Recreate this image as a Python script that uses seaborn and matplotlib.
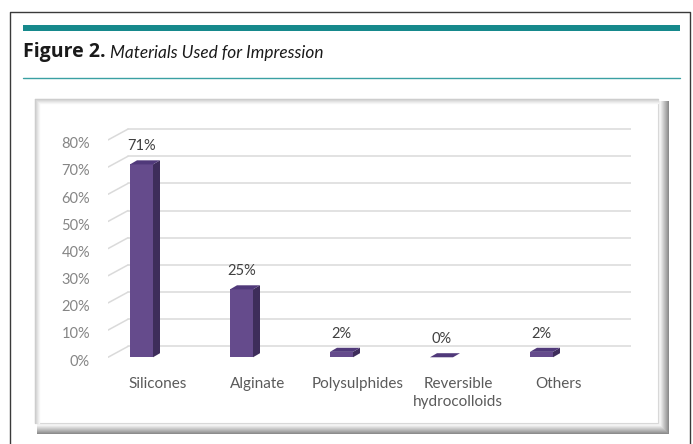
import matplotlib
matplotlib.use("Agg")
import matplotlib.pyplot as plt
import seaborn as sns
from matplotlib.patches import Rectangle, Polygon

categories = ["Silicones", "Alginate", "Polysulphides", "Reversible\nhydrocolloids", "Others"]
values = [71, 25, 2, 0, 2]
y_ticks = [0, 10, 20, 30, 40, 50, 60, 70, 80]
y_labels = [f"{t}%" for t in y_ticks]
title_bold = "Figure 2."
title_italic = "Materials Used for Impression"

sns.set_style("white")
plt.rcParams["font.family"] = ["Lato", "DejaVu Sans"]

W, H = 693, 444
fig = plt.figure(figsize=(W / 100, H / 100), dpi=100)
fig.patch.set_facecolor("white")

bg = fig.add_axes([0, 0, 1, 1])
bg.set_xlim(0, W)
bg.set_ylim(H, 0)
bg.axis("off")

# outer frame
bg.plot([10, 10, 690, 690], [446, 12, 12, 446], color="#3a3a3a", lw=1.0)
# teal bar and line
bg.add_patch(Rectangle((23, 25.5), 657, 6, color="#16898c", lw=0))
bg.plot([23, 680], [78, 78], color="#3aa0a3", lw=1.0)

# title
t1 = bg.text(23, 52, title_bold, fontsize=14, fontweight="bold", color="#1a1a1a",
             va="center", ha="left", family=["Open Sans", "DejaVu Sans"])
bg.annotate(" " + title_italic, xy=(1, 0), xycoords=t1, xytext=(0, 1),
            textcoords="offset points", fontsize=12.4, style="italic",
            color="#1a1a1a", va="bottom", ha="left")

# inner chart box with bevel shadow
bx0, by0, bx1, by1 = 35, 99, 667, 432
for i in range(9):
    g = 0.55 + 0.05 * i
    bg.add_patch(Rectangle((bx0 + 2, by0 + 2), (bx1 - bx0) - i, (by1 - by0) - i,
                           facecolor=(g, g, g), edgecolor="none"))
bg.add_patch(Rectangle((bx0, by0), (bx1 - bx0) - 9, (by1 - by0) - 9,
                       facecolor="white", edgecolor="#d8d8d8", lw=0.8))
for i in range(5):
    g = 0.80 + 0.04 * i
    bg.plot([bx0 + i, bx0 + i], [by0 + i, by1 - 9], color=(g, g, g), lw=1)
    bg.plot([bx0 + i, bx1 - 9], [by0 + i, by0 + i], color=(g, g, g), lw=1)

# chart axes (pixel 108..631 x, 128..360 y)
px0, px1, py0, py1 = 108, 631, 128, 360
ax = fig.add_axes([px0 / W, (H - py1) / H, (px1 - px0) / W, (py1 - py0) / H])
ax.set_facecolor("none")

front = "#654b8c"
side = "#3e2d5b"
top = "#50397a"

sns.barplot(x=categories, y=values, color=front, width=0.23, ax=ax,
            saturation=1, edgecolor="none", zorder=3)

xmin, xmax = -0.335, 4.895
ymax = 84.4
ddx, ddy = 0.2, 4.0
bdx, bdy = 0.07, 1.5

for v in y_ticks:
    ax.plot([xmin + ddx, xmax], [v + ddy, v + ddy], color="#dadada", lw=1.1, zorder=1)
    ax.plot([xmin, xmin + ddx], [v, v + ddy], color="#dadada", lw=1.1, zorder=1)

for p, v in zip(ax.patches, values):
    x0 = p.get_x()
    w = p.get_width()
    h = p.get_height()
    ax.add_patch(Polygon([(x0 + w, 0), (x0 + w + bdx, bdy), (x0 + w + bdx, h + bdy), (x0 + w, h)],
                         closed=True, facecolor=side, edgecolor="none", zorder=3))
    ax.add_patch(Polygon([(x0, h), (x0 + bdx, h + bdy), (x0 + w + bdx, h + bdy), (x0 + w, h)],
                         closed=True, facecolor=top, edgecolor="none", zorder=3))
    ax.text(x0 + w / 2, h + 6.6, f"{v}%", ha="center", va="center", fontsize=10.5,
            color="#404040")

ax.set_xlim(xmin, xmax)
ax.set_ylim(0, ymax)
ax.set_yticks([t - 1.0 for t in y_ticks])
ax.set_yticklabels(y_labels, fontsize=10.5, color="#858585")
ax.set_xticks([i + 0.165 for i in range(len(categories))])
ax.set_xticklabels(categories, fontsize=11, color="#5a5a5a", linespacing=1.4)
ax.tick_params(axis="y", length=0, pad=13)
ax.tick_params(axis="x", length=0, pad=12)
for lbl in ax.get_xticklabels():
    lbl.set_va("top")
for s in ax.spines.values():
    s.set_visible(False)
ax.set_xlabel("")
ax.set_ylabel("")

fig.savefig("out.png", dpi=100, facecolor="white")
